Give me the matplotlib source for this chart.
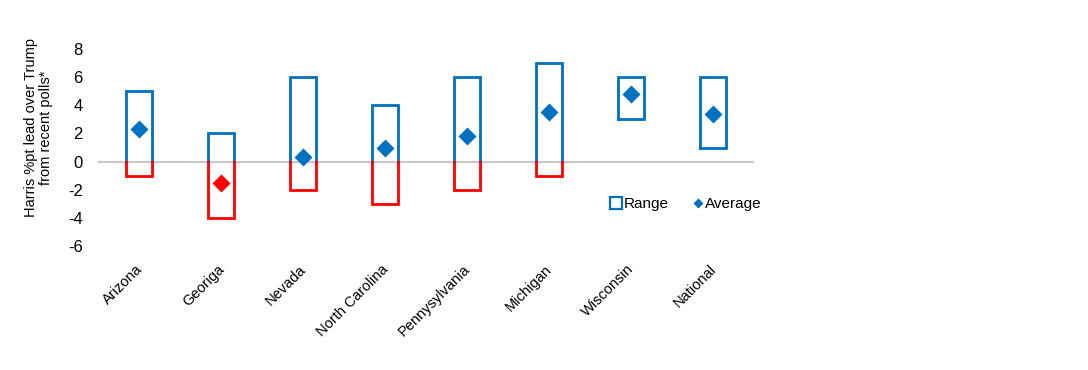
import matplotlib
matplotlib.use('Agg')
import matplotlib.pyplot as plt
import matplotlib.transforms as mtransforms
from matplotlib.lines import Line2D

plt.rcParams['font.family'] = ['Liberation Sans', 'DejaVu Sans']
plt.rcParams['axes.unicode_minus'] = False

states = ['Arizona', 'Georiga', 'Nevada', 'North Carolina', 'Pennysylvania',
          'Michigan', 'Wisconsin', 'National']
range_low = [-1, -4, -2, -3, -2, -1, 3, 1]
range_high = [5, 2, 6, 4, 6, 7, 6, 6]
average = [2.3, -1.5, 0.3, 1.0, 1.8, 3.5, 4.8, 3.4]

blue = '#0070C0'
red = '#FF0000'
half_w = 0.16

fig = plt.figure(figsize=(10.88, 3.70), dpi=100)
ax = fig.add_axes([0.0901, 0.3351, 0.6029, 0.5325])

# zero line
ax.axhline(0, color='#C8C8C8', lw=1.5, zorder=1)

for i, (lo, hi, avg) in enumerate(zip(range_low, range_high, average)):
    xl, xr = i - half_w, i + half_w
    if lo >= 0:
        ax.plot([xl, xl, xr, xr, xl], [lo, hi, hi, lo, lo], color=blue, lw=2, zorder=2,
                solid_joinstyle='miter')
    else:
        ax.plot([xl, xl, xr, xr], [0, hi, hi, 0], color=blue, lw=2, zorder=2,
                solid_joinstyle='miter')
        ax.plot([xl, xl, xr, xr], [0, lo, lo, 0], color=red, lw=2, zorder=2,
                solid_joinstyle='miter')
    ax.plot(i, avg, marker='D', ms=9, color=red if avg < 0 else blue,
            mec='none', zorder=3)

ax.set_xlim(-0.5, len(states) - 0.5)
ax.set_ylim(-6, 8)
ax.set_yticks(range(-6, 9, 2))
ax.set_xticks(range(len(states)))
ax.set_xticklabels([])
ax.tick_params(axis='both', length=0, labelsize=12, colors='#000000')
ax.tick_params(axis='y', pad=11)
for s in ax.spines.values():
    s.set_visible(False)

# rotated category labels, placed by hand under each tick
lab_tr = ax.get_xaxis_transform() + mtransforms.ScaledTranslation(-4 / 100, -16 / 100,
                                                                 fig.dpi_scale_trans)
for i, name in enumerate(states):
    ax.text(i, 0, name, transform=lab_tr, rotation=45, ha='right', va='top',
            rotation_mode='anchor', fontsize=10.5)

ax.set_ylabel('Harris %pt lead over Trump\nfrom recent polls*', fontsize=10.5,
              linespacing=1.1)
ax.yaxis.set_label_coords(-0.0686, 0.599)

handles = [
    Line2D([], [], ls='none', marker='s', ms=8, mfc='white', mec=blue, mew=1.6),
    Line2D([], [], ls='none', marker='D', ms=5, color=blue, mec='none'),
]
fig.legend(handles, ['Range', 'Average'], loc='center', bbox_to_anchor=(0.631, 0.449),
           ncol=2, frameon=False, fontsize=11, handlelength=0.6, handletextpad=0.2,
           columnspacing=1.6)

fig.savefig('out.png', dpi=100)
